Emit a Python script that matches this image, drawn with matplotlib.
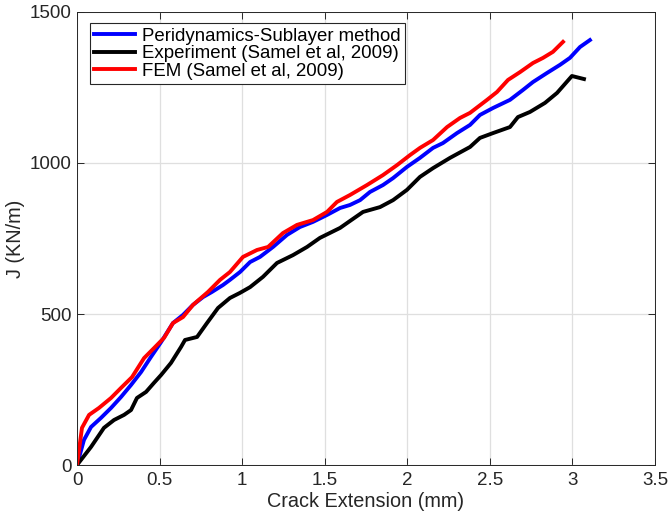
import matplotlib
matplotlib.use("Agg")
import matplotlib.pyplot as plt

plt.rcParams['font.family'] = ['Liberation Sans', 'DejaVu Sans']

# Peridynamics-Sublayer method
pd_x = [0, 0.042, 0.085, 0.145, 0.206, 0.266, 0.327, 0.388, 0.448, 0.509, 0.581,
        0.642, 0.702, 0.763, 0.817, 0.884, 0.926, 0.987, 1.048, 1.108, 1.187,
        1.272, 1.350, 1.429, 1.514, 1.593, 1.653, 1.714, 1.774, 1.853, 1.914,
        1.998, 2.077, 2.156, 2.216, 2.301, 2.380, 2.440, 2.519, 2.622, 2.701,
        2.761, 2.846, 2.925, 2.985, 3.046, 3.106]
pd_j = [0, 83, 126, 156, 189, 225, 265, 308, 358, 407, 470,
        497, 530, 556, 573, 596, 613, 639, 672, 689, 722,
        762, 788, 805, 828, 851, 861, 877, 904, 927, 950,
        987, 1017, 1050, 1066, 1099, 1126, 1159, 1182, 1209, 1242,
        1268, 1298, 1325, 1348, 1384, 1407]

# Experiment (Samel et al, 2009)
exp_x = [0, 0.085, 0.163, 0.224, 0.285, 0.327, 0.363, 0.418, 0.466, 0.509, 0.569,
         0.630, 0.654, 0.727, 0.787, 0.854, 0.926, 0.987, 1.048, 1.126, 1.211,
         1.308, 1.393, 1.471, 1.593, 1.653, 1.732, 1.835, 1.914, 1.998, 2.077,
         2.156, 2.259, 2.380, 2.440, 2.519, 2.622, 2.670, 2.743, 2.834, 2.907,
         2.997, 3.070]
exp_j = [0, 60, 123, 149, 166, 182, 222, 242, 272, 298, 338,
         391, 414, 424, 470, 520, 553, 570, 589, 623, 669,
         695, 722, 752, 785, 808, 838, 854, 877, 911, 954,
         983, 1017, 1053, 1083, 1099, 1119, 1152, 1169, 1199, 1232,
         1288, 1278]

# FEM (Samel et al, 2009)
fem_x = [0, 0.030, 0.073, 0.133, 0.206, 0.266, 0.333, 0.406, 0.466, 0.527, 0.581,
         0.642, 0.702, 0.793, 0.866, 0.926, 1.005, 1.090, 1.157, 1.247, 1.332,
         1.429, 1.514, 1.574, 1.653, 1.756, 1.853, 1.938, 2.016, 2.077, 2.156,
         2.241, 2.319, 2.380, 2.483, 2.543, 2.610, 2.683, 2.761, 2.822, 2.882,
         2.943]
fem_j = [0, 123, 166, 189, 222, 255, 291, 354, 387, 421, 470,
         490, 530, 573, 613, 639, 689, 712, 722, 768, 795,
         811, 838, 871, 894, 927, 960, 993, 1026, 1050, 1076,
         1119, 1149, 1166, 1209, 1235, 1275, 1301, 1331, 1348, 1368,
         1401]

x_ticks = [0, 0.5, 1, 1.5, 2, 2.5, 3, 3.5]
x_tick_labels = ['0', '0.5', '1', '1.5', '2', '2.5', '3', '3.5']
y_ticks = [0, 500, 1000, 1500]

fig = plt.figure(figsize=(6.68, 5.14), dpi=100)
ax = fig.add_axes([0.1153, 0.0953, 0.8652, 0.8814])

lw = 2.8
ax.plot(pd_x, pd_j, color='#0000ff', lw=lw, label='Peridynamics-Sublayer method')
ax.plot(exp_x, exp_j, color='#000000', lw=lw, label='Experiment (Samel et al, 2009)')
ax.plot(fem_x, fem_j, color='#ff0000', lw=lw, label='FEM (Samel et al, 2009)')

ax.set_xlim(0, 3.5)
ax.set_ylim(0, 1500)
ax.set_xticks(x_ticks)
ax.set_xticklabels(x_tick_labels)
ax.set_yticks(y_ticks)

ax.grid(True, color='#dfdfdf', lw=0.9)
ax.set_axisbelow(True)
ax.tick_params(direction='in', top=True, right=True, length=5, width=0.7,
               colors='#262626', labelsize=13.5)
ax.tick_params(axis='x', pad=5)
ax.tick_params(axis='y', pad=4)
for s in ax.spines.values():
    s.set_color('#262626')
    s.set_linewidth(0.7)

ax.set_xlabel('Crack Extension (mm)', fontsize=14.3, color='#262626', labelpad=2)
ax.set_ylabel('J (KN/m)', fontsize=14.3, color='#262626', labelpad=3)

leg = ax.legend(loc='upper left', bbox_to_anchor=(0.022, 0.975), borderaxespad=0,
                fontsize=13.4, frameon=True, fancybox=False, framealpha=1,
                handlelength=2.2, handletextpad=0.35, labelspacing=0.02,
                borderpad=0.25)
leg.get_frame().set_edgecolor('#262626')
leg.get_frame().set_linewidth(0.8)

fig.savefig('out.png', dpi=100)
